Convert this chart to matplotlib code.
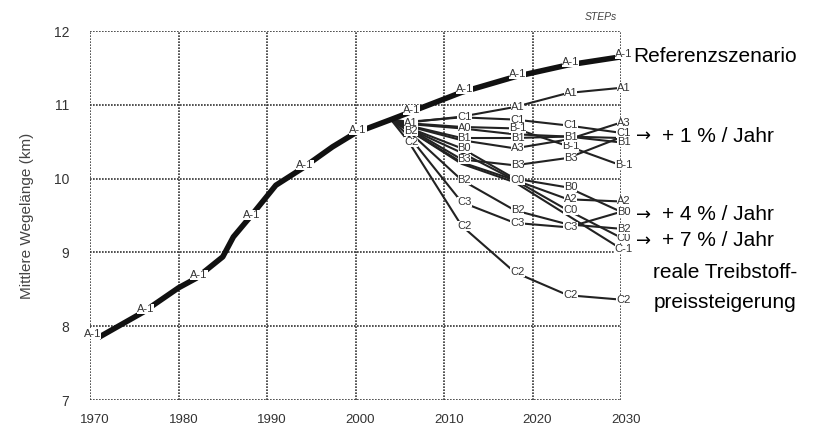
import numpy as np
import matplotlib.pyplot as plt
from matplotlib.transforms import ScaledTranslation

plt.rcParams['font.family'] = ['Liberation Sans', 'DejaVu Sans']

# reference scenario (history + trend)
ref_years = [1971, 1976, 1980, 1982, 1985, 1986.2, 1988.3, 1991, 1994, 1997.4,
             2000, 2004, 2012, 2018, 2024, 2030]
ref_vals = [7.85, 8.19, 8.52, 8.65, 8.94, 9.21, 9.51, 9.91, 10.14, 10.43,
            10.62, 10.8, 11.17, 11.38, 11.54, 11.65]
ref_label_years = [1970, 1976, 1982, 1988, 1994, 2000, 2006, 2012, 2018, 2024, 2030]

# price scenarios
scen_years = [2004, 2006, 2012, 2018, 2024, 2030]
scen_names = ['A1', 'C1', 'A0', 'B-1', 'B1', 'A3', 'B0', 'A2', 'B3', 'C0', 'C-1', 'B2', 'C3', 'C2']
A1 = [10.8, 10.76, 10.84, 10.97, 11.16, 11.23]
C1 = [10.8, 10.77, 10.83, 10.80, 10.72, 10.62]
A0 = [10.8, 10.74, 10.68, 10.60, 10.57, 10.55]
Bm1 = [10.8, 10.75, 10.70, 10.68, 10.44, 10.18]
B1 = [10.8, 10.72, 10.55, 10.55, 10.57, 10.49]
A3 = [10.8, 10.71, 10.52, 10.41, 10.53, 10.76]
B0 = [10.8, 10.69, 10.41, 10.00, 9.88, 9.55]
A2 = [10.8, 10.68, 10.35, 9.98, 9.72, 9.69]
B3 = [10.8, 10.68, 10.26, 10.18, 10.28, 10.56]
C0 = [10.8, 10.66, 10.22, 9.98, 9.57, 9.20]
Cm1 = [10.8, 10.66, 10.20, 9.95, 9.50, 9.05]
B2 = [10.8, 10.64, 9.98, 9.57, 9.38, 9.32]
C3 = [10.8, 10.58, 9.68, 9.40, 9.34, 9.55]
C2 = [10.8, 10.50, 9.36, 8.73, 8.42, 8.36]
scen_vals = [A1, C1, A0, Bm1, B1, A3, B0, A2, B3, C0, Cm1, B2, C3, C2]
# which points carry a label (same order as scen_years)
scen_flags = [[0, 1, 0, 1, 1, 1],
              [0, 0, 1, 1, 1, 1],
              [0, 0, 1, 0, 0, 0],
              [0, 0, 0, 1, 1, 1],
              [0, 0, 1, 1, 1, 1],
              [0, 0, 0, 1, 0, 1],
              [0, 0, 1, 0, 1, 1],
              [0, 0, 0, 0, 1, 1],
              [0, 0, 1, 1, 1, 0],
              [0, 0, 0, 1, 1, 1],
              [0, 0, 0, 0, 0, 1],
              [0, 1, 1, 1, 0, 1],
              [0, 0, 1, 1, 1, 0],
              [0, 1, 1, 1, 1, 1]]

fig = plt.figure(figsize=(8.13, 4.34), dpi=100)
ax = fig.add_axes([90/813, 1-400/434, 531/813, 369/434])

ax.set_xlim(1970, 2030)
ax.set_ylim(7, 12)
for s in ax.spines.values():
    s.set_visible(False)
for yv in range(7, 13):
    ax.axhline(yv, color='#333', lw=1.2, ls=(0, (1, 0.8)), zorder=0)
for xv in range(1970, 2031, 10):
    ax.axvline(xv, color='#333', lw=1.2, ls=(0, (1, 0.8)), zorder=0)

ax.set_xticks(range(1970, 2031, 10))
ax.set_xticklabels([str(v) for v in range(1970, 2031, 10)], fontsize=9.5, color='#333')
ax.set_yticks(range(7, 13))
ax.set_yticklabels([str(v) for v in range(7, 13)], fontsize=10, color='#333')
ax.tick_params(axis='both', length=0)
ax.tick_params(axis='x', pad=10)
ax.tick_params(axis='y', pad=15)
shift = ScaledTranslation(5/100, 0, fig.dpi_scale_trans)
for t in ax.get_xticklabels():
    t.set_transform(t.get_transform() + shift)
ax.set_ylabel('Mittlere Wegelänge (km)', fontsize=11, color='#444', labelpad=14)

lab = dict(fontsize=8, color='#333', ha='center', va='center', clip_on=False,
           bbox=dict(boxstyle='square,pad=0.0', fc='white', ec='none'))

for vals in scen_vals:
    ax.plot(scen_years, vals, color='#222', lw=1.5, zorder=2, solid_capstyle='butt')
ax.plot(ref_years, ref_vals, color='#111', lw=4, zorder=3, solid_capstyle='butt')

for name, vals, flags in zip(scen_names, scen_vals, scen_flags):
    for yr, v, f in zip(scen_years, vals, flags):
        if f:
            ax.text(yr + 0.3, v, name, zorder=5, **lab)
for yr in ref_label_years:
    ax.text(yr + 0.3, np.interp(yr, ref_years, ref_vals) + 0.04, 'A-1', zorder=6, **lab)

ax.text(2029.5, 12.12, 'STEPs', fontsize=7.5, style='italic', color='#444',
        ha='right', va='bottom')

side = dict(fontsize=15, color='black', va='center')
fig.text(633/813, 1-57/434, 'Referenzszenario', **side)
for ypx, txt in [(136, '+ 1 % / Jahr'), (215, '+ 4 % / Jahr'), (241, '+ 7 % / Jahr')]:
    fig.text(636/813, 1-ypx/434, '→', family='DejaVu Sans', fontsize=13, va='center')
    fig.text(662/813, 1-ypx/434, txt, **side)
fig.text(725/813, 1-272/434, 'reale Treibstoff-', ha='center', **side)
fig.text(725/813, 1-302/434, 'preissteigerung', ha='center', **side)

fig.savefig('out.png', dpi=100)
